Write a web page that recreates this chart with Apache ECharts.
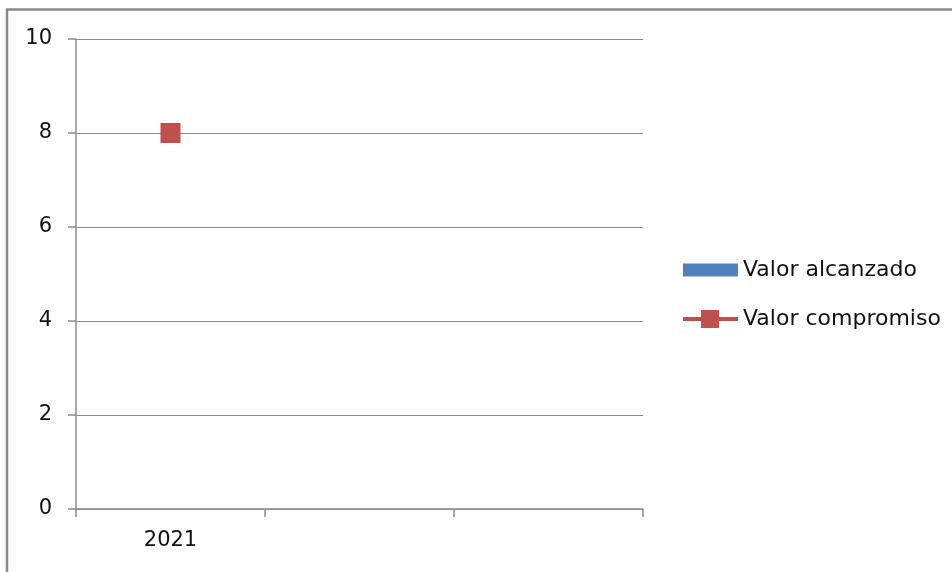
<!DOCTYPE html>
<html>
<head>
<meta charset="utf-8">
<script src="https://cdn.jsdelivr.net/npm/echarts@6/dist/echarts.min.js"></script>
<style>
  html, body { margin: 0; padding: 0; background: #fff; }
  #chart { width: 952px; height: 572px; }
</style>
</head>
<body>
<div id="chart"></div>
<script>
// Years on the category axis (only the first one carries a label)
const categories = ['2021', '', ''];
// Achieved value per year (no data reported yet)
const valorAlcanzado = [null, null, null];
// Committed value per year
const valorCompromiso = [8, null, null];
// Value axis range and step
const yMin = 0, yMax = 10, yStep = 2;

const chart = echarts.init(document.getElementById('chart'), null, { renderer: 'canvas' });
const fontFamily = 'DejaVu Sans';
const gray = '#8c8c8c';

// Legend glyphs: a flat bar swatch and a thick line crossed by a square marker
const barIcon = 'path://M0,0 L54,0 L54,13 L0,13 Z';
const lineIcon = 'path://M0,7 L18,7 L18,0 L36,0 L36,7 L55,7 L55,11 L36,11 L36,18 L18,18 L18,11 L0,11 Z';

chart.setOption({
  animation: false,
  backgroundColor: '#ffffff',
  graphic: [{
    type: 'rect',
    shape: { x: 7, y: 9.5, width: 1000, height: 700 },
    style: { fill: 'none', stroke: '#898989', lineWidth: 2.5 },
    silent: true
  }],
  grid: { left: 76, right: 309, top: 39, bottom: 63, containLabel: false },
  legend: {
    orient: 'vertical',
    left: 678,
    top: 254,
    itemWidth: 55,
    itemHeight: 18,
    itemGap: 27,
    symbolKeepAspect: true,
    textStyle: { fontFamily, fontSize: 22, color: '#111' },
    data: [
      { name: 'Valor alcanzado', icon: barIcon, itemStyle: { color: '#4f81bd' } },
      { name: 'Valor compromiso', icon: lineIcon, itemStyle: { color: '#c0504d' } }
    ]
  },
  xAxis: {
    type: 'category',
    data: categories,
    boundaryGap: true,
    axisLine: { lineStyle: { color: gray, width: 1.5 } },
    axisTick: { show: true, length: 8, alignWithLabel: false, lineStyle: { color: gray, width: 1.5 } },
    axisLabel: { margin: 21, fontFamily, fontSize: 21, color: '#111' },
    splitLine: { show: false }
  },
  yAxis: {
    type: 'value',
    min: yMin,
    max: yMax,
    interval: yStep,
    axisLine: { show: true, lineStyle: { color: gray, width: 1.5 } },
    axisTick: { show: true, length: 8, lineStyle: { color: gray, width: 1.5 } },
    axisLabel: { margin: 24, fontFamily, fontSize: 21, color: '#111' },
    splitLine: { show: true, lineStyle: { color: gray, width: 1.2 } }
  },
  series: [
    {
      name: 'Valor alcanzado',
      type: 'bar',
      data: valorAlcanzado,
      itemStyle: { color: '#4f81bd' }
    },
    {
      name: 'Valor compromiso',
      type: 'line',
      data: valorCompromiso,
      symbol: 'rect',
      symbolSize: 20,
      showAllSymbol: true,
      itemStyle: { color: '#c0504d' },
      lineStyle: { color: '#c0504d', width: 4 }
    }
  ]
});
</script>
</body>
</html>
